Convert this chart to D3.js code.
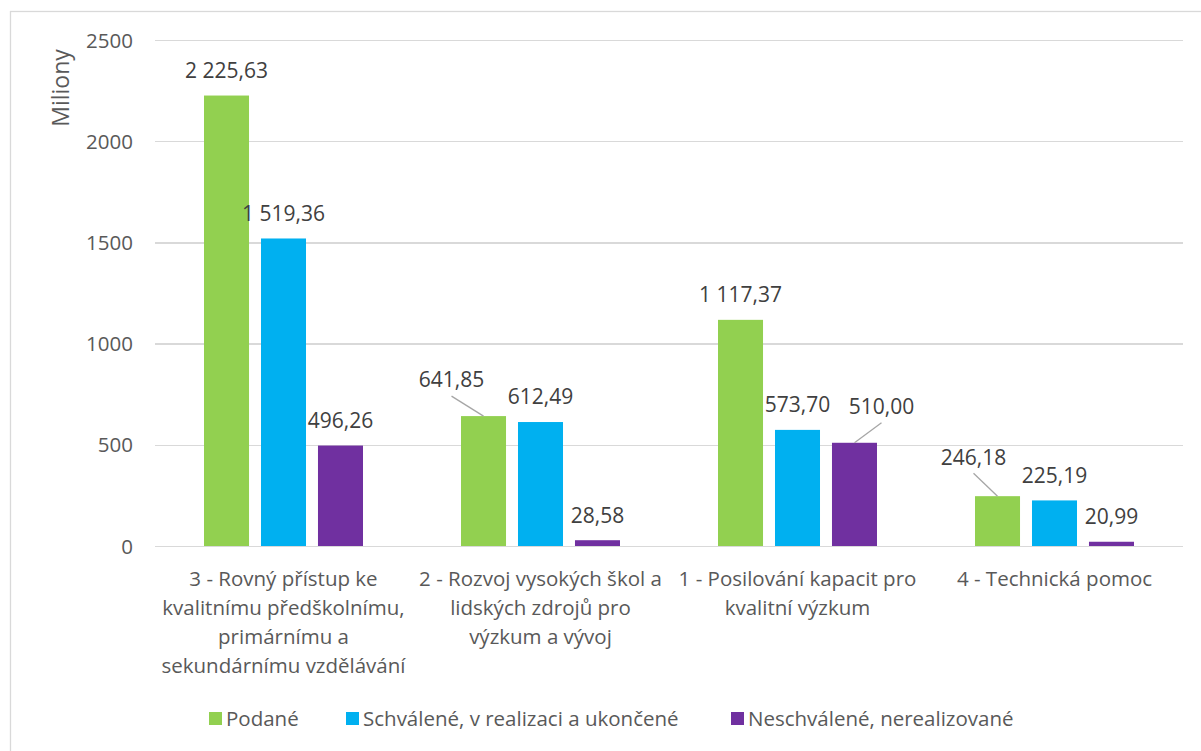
<!doctype html>
<html>
<head>
<meta charset="utf-8">
<script src="https://d3js.org/d3.v7.min.js"></script>
<style>
  body{margin:0;background:#fff;}
  svg{font-family:'Open Sans',sans-serif;}
  .grid line{stroke:#d9d9d9;stroke-width:1.3px;shape-rendering:crispEdges;}
  .grid path{display:none;}
  .yaxis path,.yaxis line{display:none;}
  .yaxis text{fill:#595959;font-size:20.5px;font-family:'Open Sans',sans-serif;}
  .lbl{fill:#404040;font-size:21px;}
  .cat{fill:#595959;font-size:20.5px;}
  .leg{fill:#595959;font-size:20.5px;}
</style>
</head>
<body>
<svg id="chart" width="1201" height="751"></svg>
<script>
// data
var categories = [
  '3 - Rovný přístup ke\nkvalitnímu předškolnímu,\nprimárnímu a\nsekundárnímu vzdělávání',
  '2 - Rozvoj vysokých škol a\nlidských zdrojů pro\nvýzkum a vývoj',
  '1 - Posilování kapacit pro\nkvalitní výzkum',
  '4 - Technická pomoc'
];
var seriesNames = ['Podané','Schválené, v realizaci a ukončené','Neschválené, nerealizované'];
var podane     = [2225.63, 641.85, 1117.37, 246.18];
var schvalene  = [1519.36, 612.49, 573.70, 225.19];
var neschvalene= [496.26, 28.58, 510.00, 20.99];
var yTicks = [0,500,1000,1500,2000,2500];
var colors = ['#92d050','#00b0f0','#7030a0'];
// labels that were dragged off their bars (series index, category index, dx, dy)
var movedLabels = [[0,1,-32,-11],[2,2,27,-11],[0,3,-24,-14]];

var allSeries = [podane, schvalene, neschvalene];
var svg = d3.select('#chart');

// chart area border
svg.append('rect').attr('x',10.5).attr('y',11.5).attr('width',1210).attr('height',760)
  .attr('fill','none').attr('stroke','#d9d9d9').attr('stroke-width',1.3);

var pLeft = 155, pRight = 1183, pTop = 40, pBottom = 546;
var x0 = d3.scaleBand().domain(d3.range(categories.length)).range([pLeft,pRight]);
var x1 = d3.scaleBand().domain(d3.range(seriesNames.length)).range([0,x0.bandwidth()])
  .paddingInner(0.21).paddingOuter(0.86);
var y = d3.scaleLinear().domain([0,2500]).range([pBottom,pTop]);

// gridlines
svg.append('g').attr('class','grid').attr('transform','translate('+pLeft+',0)')
  .call(d3.axisLeft(y).tickValues(yTicks).tickSize(-(pRight-pLeft)).tickFormat(''));

// y axis labels
svg.append('g').attr('class','yaxis').attr('transform','translate(133,0)')
  .call(d3.axisLeft(y).tickValues(yTicks).tickSize(0).tickPadding(0).tickFormat(d3.format('d')))
  .selectAll('text').attr('dy','0.35em');

svg.append('text').attr('transform','translate(69,88) rotate(-90)')
  .attr('text-anchor','middle').attr('fill','#595959').style('font-size','23px').text('Miliony');

// bars
var flat = [];
allSeries.forEach(function(vals,s){
  vals.forEach(function(v,c){ flat.push({s:s,c:c,v:v}); });
});

svg.append('g').selectAll('rect.bar').data(flat).enter().append('rect')
  .attr('class','bar')
  .attr('x',function(d){return x0(d.c)+x1(d.s);})
  .attr('width',x1.bandwidth())
  .attr('y',function(d){return y(d.v);})
  .attr('height',function(d){return y(0)-y(d.v);})
  .attr('fill',function(d){return colors[d.s];});

// value labels
function fmt(v){
  var s = v.toFixed(2).replace('.',',');
  var parts = s.split(',');
  parts[0] = parts[0].replace(/\B(?=(\d{3})+(?!\d))/g,' ');
  return parts[0]+','+parts[1];
}
function moved(d){
  var m = movedLabels.filter(function(k){return k[0]===d.s && k[1]===d.c;});
  return m.length ? m[0] : null;
}
var lg = svg.append('g');
flat.forEach(function(d){
  var cx = x0(d.c)+x1(d.s)+x1.bandwidth()/2;
  var ty = y(d.v);
  var m = moved(d);
  var lx = cx, ly = ty-25;
  if(m){
    lx = cx+m[2]; ly = ty-25+m[3];
    lg.append('line').attr('x1',lx).attr('y1',ly+16).attr('x2',cx).attr('y2',ty)
      .attr('stroke','#a6a6a6').attr('stroke-width',1.3);
  }
  lg.append('text').attr('class','lbl').attr('x',lx).attr('y',ly)
    .attr('dy','0.35em').attr('text-anchor','middle').text(fmt(d.v));
});

// category labels
svg.append('g').selectAll('text.cat').data(categories).enter().append('text')
  .attr('class','cat').attr('text-anchor','middle')
  .attr('x',function(d,i){return x0(i)+x0.bandwidth()/2;})
  .attr('y',579)
  .each(function(d){
    var t = d3.select(this);
    d.split('\n').forEach(function(line,k){
      t.append('tspan').attr('x',t.attr('x')).attr('dy',k===0?'0.35em':'29px').text(line);
    });
  });

// legend
var legX = [209,346,731];
var leg = svg.append('g');
seriesNames.forEach(function(n,i){
  leg.append('rect').attr('x',legX[i]).attr('y',712).attr('width',13).attr('height',13).attr('fill',colors[i]);
  leg.append('text').attr('class','leg').attr('x',legX[i]+17).attr('y',719).attr('dy','0.35em').text(n);
});
</script>
</body>
</html>
